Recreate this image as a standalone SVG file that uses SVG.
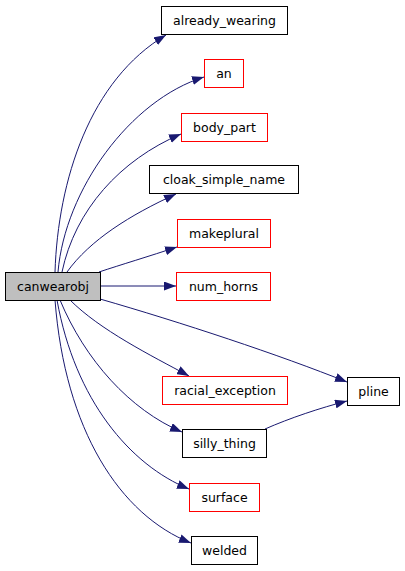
<svg xmlns="http://www.w3.org/2000/svg" width="405" height="571" viewBox="0 0 405 571">
<style>
.n rect{fill:#ffffff;stroke:#000000;stroke-width:1}
.n.red rect{stroke:#ff0000}
.n.root rect{fill:#bfbfbf}
.n text{font-family:"DejaVu Sans",sans-serif;font-size:12.5px;fill:#000000;text-anchor:middle}
.e path{fill:none;stroke:#191970;stroke-width:1;marker-end:url(#ah)}
</style>
<defs>
<marker id="ah" markerUnits="userSpaceOnUse" markerWidth="12" markerHeight="9" refX="12" refY="4.5" orient="auto">
<path d="M0,0 L12,4.5 L0,9 Z" fill="#191970" stroke="none"/>
</marker>
</defs>
<rect width="405" height="571" fill="#ffffff"/>
<g id="edges" class="e">
<path d="M55,272 C58,180 90,80 166,35"/>
<path d="M58,272 C65,190 130,100 204,77"/>
<path d="M62,272 C75,210 120,160 181,134"/>
<path d="M67,272 C90,240 130,215 176,194"/>
<path d="M99,272 C120,265 150,256 177,247"/>
<path d="M101,286 L176,286"/>
<path d="M100,299 C180,322 280,355 347,382"/>
<path d="M70,300 C100,330 150,355 189,376"/>
<path d="M60,300 C85,360 130,410 182,432"/>
<path d="M57,300 C75,400 130,465 189,489"/>
<path d="M55,300 C65,430 120,515 191,543"/>
<path d="M265,429 C290,418 320,408 347,401"/>
</g>
<g id="canwearobj" class="n root"><rect x="5.5" y="272.5" width="95" height="28"/><text x="53" y="290.5">canwearobj</text></g>
<g id="already_wearing" class="n"><rect x="161.5" y="6.5" width="126" height="28"/><text x="224.5" y="24.5">already_wearing</text></g>
<g id="an" class="n red"><rect x="204.5" y="59.5" width="39" height="28"/><text x="224" y="77.5">an</text></g>
<g id="body_part" class="n red"><rect x="181.5" y="113.5" width="86" height="28"/><text x="224.5" y="131.5">body_part</text></g>
<g id="cloak_simple_name" class="n"><rect x="149.5" y="165.5" width="149" height="28"/><text x="224" y="183.5">cloak_simple_name</text></g>
<g id="makeplural" class="n red"><rect x="177.5" y="219.5" width="93" height="28"/><text x="224" y="237.5">makeplural</text></g>
<g id="num_horns" class="n red"><rect x="176.5" y="272.5" width="94" height="28"/><text x="223.5" y="290.5">num_horns</text></g>
<g id="racial_exception" class="n red"><rect x="162.5" y="376.5" width="125" height="28"/><text x="225" y="394.5">racial_exception</text></g>
<g id="silly_thing" class="n"><rect x="182.5" y="429.5" width="84" height="28"/><text x="224.5" y="447.5">silly_thing</text></g>
<g id="surface" class="n red"><rect x="189.5" y="483.5" width="70" height="28"/><text x="224.5" y="501.5">surface</text></g>
<g id="welded" class="n"><rect x="191.5" y="536.5" width="66" height="28"/><text x="224.5" y="554.5">welded</text></g>
<g id="pline" class="n"><rect x="347.5" y="377.5" width="52" height="28"/><text x="373.5" y="395.5">pline</text></g>
</svg>
